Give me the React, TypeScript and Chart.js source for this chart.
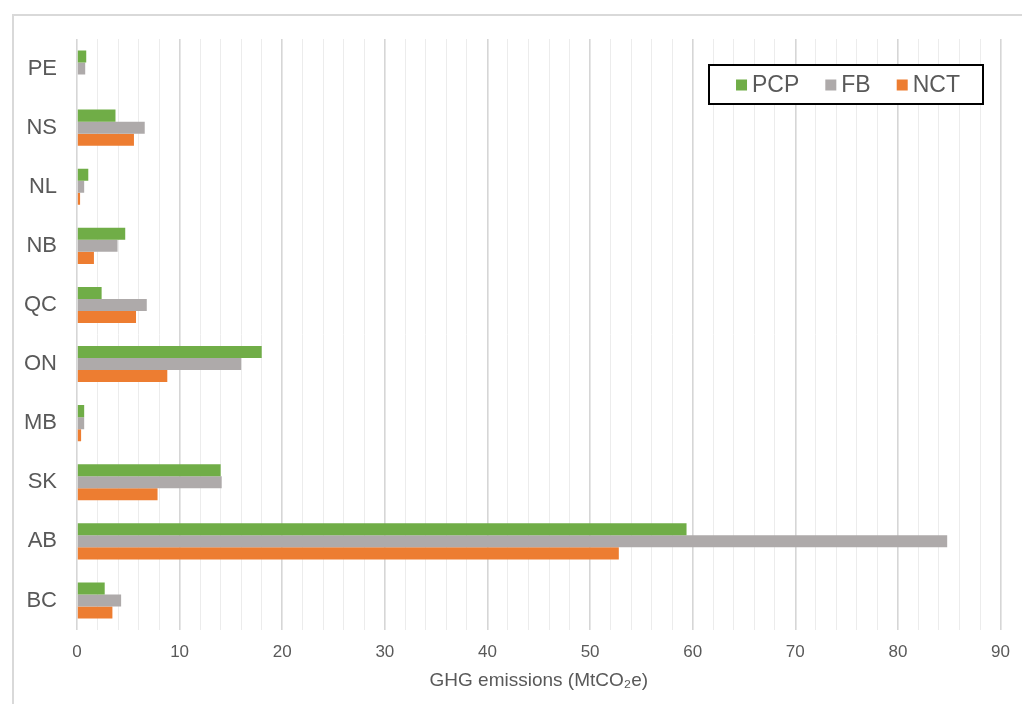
import React, { useEffect, useRef } from "react";
import { Chart, registerables } from "chart.js";

Chart.register(...registerables);

// Provinces, listed top to bottom
const provinces = ["PE", "NS", "NL", "NB", "QC", "ON", "MB", "SK", "AB", "BC"];

// GHG emissions by policy scenario (MtCO2e)
const pcpValues = [0.9, 3.75, 1.1, 4.7, 2.4, 18.0, 0.7, 14.0, 59.4, 2.7];
const fbValues = [0.8, 6.6, 0.7, 3.95, 6.8, 16.0, 0.7, 14.1, 84.8, 4.3];
const nctValues = [0, 5.55, 0.3, 1.65, 5.75, 8.8, 0.4, 7.85, 52.8, 3.45];

const seriesNames = ["PCP", "FB", "NCT"];
const seriesColors = ["#70AD47", "#AEAAAA", "#ED7D31"];

const xTickMax = 90;
const xAxisTitle = "GHG emissions (MtCO₂e)";

const FONT = "'Liberation Sans', Arial, Helvetica, sans-serif";
const TEXT = "#595959";

// Outer frame plus a boxed legend drawn inside the plot area
const framePlugin = {
  id: "frameAndLegend",
  beforeDraw(chart: any) {
    const ctx = chart.ctx;
    ctx.save();
    ctx.fillStyle = "#ffffff";
    ctx.fillRect(0, 0, chart.width, chart.height);
    ctx.strokeStyle = "#d9d9d9";
    ctx.lineWidth = 2;
    ctx.strokeRect(13, 15, chart.width + 20, chart.height + 20);
    ctx.restore();
  },
  afterDraw(chart: any) {
    const ctx = chart.ctx;
    const box = { x: 709, y: 65, w: 274, h: 39 };
    ctx.save();
    ctx.fillStyle = "#ffffff";
    ctx.fillRect(box.x, box.y, box.w, box.h);
    ctx.strokeStyle = "#000000";
    ctx.lineWidth = 2;
    ctx.strokeRect(box.x, box.y, box.w, box.h);

    ctx.font = `23px ${FONT}`;
    ctx.textBaseline = "middle";
    const sq = 11;
    const gapText = 5;
    const gapItem = 26;
    const items = chart.data.datasets.map((d: any) => ({
      label: d.label,
      color: d.backgroundColor,
      w: sq + gapText + ctx.measureText(d.label).width,
    }));
    const total =
      items.reduce((s: number, it: any) => s + it.w, 0) + gapItem * (items.length - 1);
    let x = box.x + (box.w - total) / 2 + 2;
    const cy = box.y + box.h / 2 + 0.5;
    items.forEach((it: any) => {
      ctx.fillStyle = it.color;
      ctx.fillRect(x, cy - sq / 2, sq, sq);
      ctx.fillStyle = TEXT;
      ctx.fillText(it.label, x + sq + gapText, cy + 1);
      x += it.w + gapItem;
    });
    ctx.restore();
  },
};

export default function App() {
  const canvasRef = useRef<HTMLCanvasElement | null>(null);

  useEffect(() => {
    document.body.style.margin = "0";
    document.body.style.overflow = "hidden";
    const canvas = canvasRef.current;
    if (!canvas) return;

    const values = [pcpValues, fbValues, nctValues];
    const chart = new Chart(canvas, {
      type: "bar",
      data: {
        labels: provinces,
        datasets: seriesNames.map((name, i) => ({
          label: name,
          data: values[i],
          backgroundColor: seriesColors[i],
          borderWidth: 0,
          categoryPercentage: 0.61,
          barPercentage: 1,
        })),
      },
      options: {
        indexAxis: "y",
        animation: false,
        responsive: false,
        maintainAspectRatio: false,
        layout: { padding: { top: 39, right: 19, left: 0, bottom: 0 } },
        plugins: {
          legend: { display: false },
          tooltip: { enabled: false },
        },
        scales: {
          x: {
            min: 0,
            max: xTickMax,
            afterFit(scale: any) {
              scale.height = 74;
            },
            ticks: {
              stepSize: 2,
              autoSkip: false,
              maxRotation: 0,
              padding: 12,
              color: TEXT,
              font: { family: FONT, size: 17 },
              callback: (v: any) => (Number(v) % 10 === 0 ? String(v) : ""),
            },
            grid: {
              drawTicks: false,
              color: (c: any) =>
                c.tick && c.tick.value % 10 === 0 ? "#d6d6d6" : "#ececec",
              lineWidth: (c: any) => (c.tick && c.tick.value % 10 === 0 ? 1.6 : 1),
            },
            border: { display: false },
            title: {
              display: true,
              text: xAxisTitle,
              color: TEXT,
              font: { family: FONT, size: 19 },
              padding: { top: 4, bottom: 12 },
            },
          },
          y: {
            afterFit(scale: any) {
              scale.width = 77;
            },
            ticks: {
              padding: 20,
              color: TEXT,
              font: { family: FONT, size: 22 },
            },
            grid: { display: false, drawTicks: false },
            border: { display: false },
          },
        },
      },
      plugins: [framePlugin],
    });

    return () => chart.destroy();
  }, []);

  return (
    <div style={{ width: 1022, height: 704 }}>
      <canvas ref={canvasRef} width={1022} height={704} style={{ display: "block" }} />
    </div>
  );
}
